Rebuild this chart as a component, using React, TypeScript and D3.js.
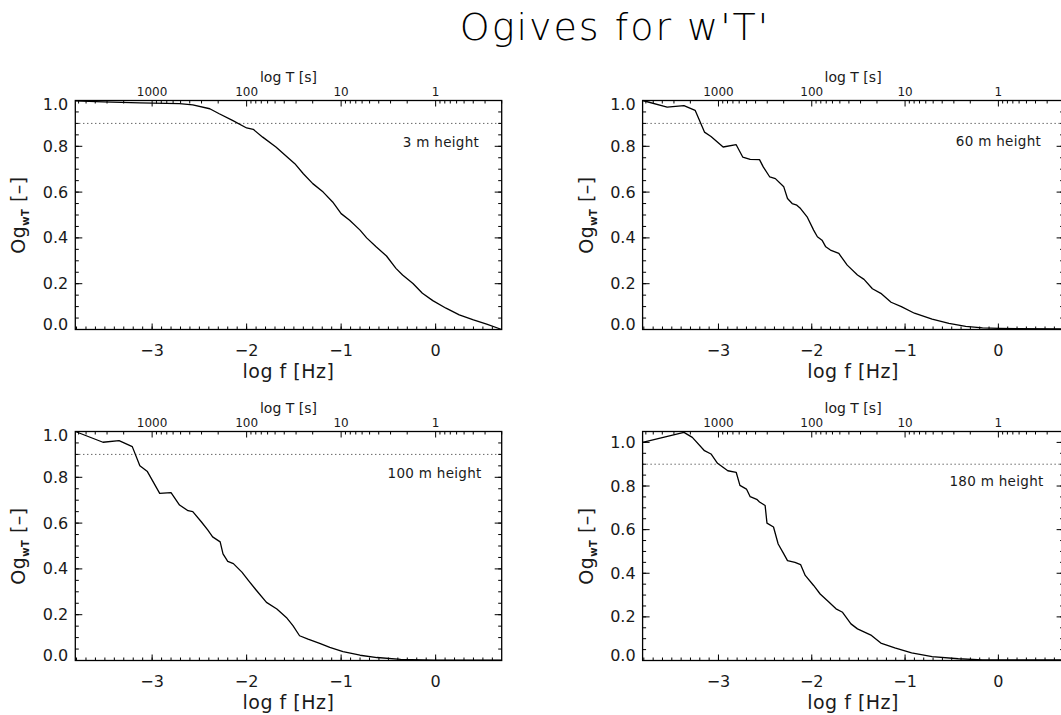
import React from 'react';
import * as d3 from 'd3';

// ---------- data ----------
const panelTitles = ['3 m height', '60 m height', '100 m height', '180 m height'];

const logf3 = [-3.813, -3.52, -3.13, -2.71, -2.57, -2.39, -2.29, -2.15, -2.0, -1.93, -1.83, -1.69, -1.55, -1.49, -1.40, -1.30, -1.19, -1.09, -1.0, -0.91, -0.80, -0.73, -0.63, -0.52, -0.42, -0.35, -0.24, -0.14, -0.03, 0.11, 0.25, 0.40, 0.54, 0.699];
const og3 = [0.998, 0.994, 0.99, 0.986, 0.981, 0.964, 0.942, 0.913, 0.88, 0.874, 0.84, 0.797, 0.746, 0.724, 0.68, 0.637, 0.60, 0.557, 0.506, 0.477, 0.434, 0.40, 0.361, 0.321, 0.267, 0.238, 0.201, 0.158, 0.126, 0.093, 0.064, 0.042, 0.023, 0.0];

const logf60 = [-3.813, -3.55, -3.37, -3.25, -3.15, -3.08, -2.95, -2.81, -2.74, -2.66, -2.56, -2.52, -2.45, -2.39, -2.30, -2.26, -2.21, -2.16, -2.12, -2.05, -1.98, -1.94, -1.89, -1.85, -1.80, -1.71, -1.62, -1.51, -1.44, -1.35, -1.26, -1.15, -1.04, -0.90, -0.71, -0.53, -0.35, -0.17, 0.01, 0.2, 0.699];
const og60 = [1.0, 0.971, 0.978, 0.957, 0.862, 0.843, 0.797, 0.807, 0.753, 0.743, 0.742, 0.71, 0.666, 0.659, 0.623, 0.572, 0.55, 0.543, 0.528, 0.492, 0.434, 0.405, 0.39, 0.361, 0.347, 0.332, 0.281, 0.238, 0.219, 0.178, 0.158, 0.119, 0.10, 0.071, 0.045, 0.027, 0.014, 0.007, 0.005, 0.004, 0.002];

const logf100 = [-3.813, -3.52, -3.35, -3.21, -3.13, -3.05, -2.92, -2.80, -2.71, -2.62, -2.57, -2.48, -2.41, -2.36, -2.28, -2.25, -2.20, -2.14, -2.05, -1.98, -1.90, -1.79, -1.68, -1.58, -1.51, -1.44, -1.35, -1.22, -1.12, -0.98, -0.80, -0.62, -0.37, -0.02, 0.699];
const og100 = [1.0, 0.953, 0.96, 0.934, 0.85, 0.825, 0.73, 0.733, 0.679, 0.654, 0.65, 0.606, 0.569, 0.54, 0.518, 0.466, 0.433, 0.423, 0.386, 0.349, 0.308, 0.254, 0.225, 0.188, 0.152, 0.108, 0.093, 0.074, 0.057, 0.039, 0.023, 0.013, 0.005, 0.001, 0.001];

const logf180 = [-3.813, -3.37, -3.28, -3.15, -3.08, -3.01, -2.90, -2.81, -2.77, -2.70, -2.66, -2.59, -2.56, -2.50, -2.48, -2.41, -2.36, -2.30, -2.26, -2.18, -2.12, -2.07, -1.98, -1.91, -1.82, -1.74, -1.67, -1.58, -1.51, -1.36, -1.26, -1.11, -0.93, -0.71, -0.43, -0.17, 0.699];
const og180 = [1.0, 1.046, 1.023, 0.962, 0.947, 0.904, 0.87, 0.863, 0.803, 0.786, 0.751, 0.739, 0.727, 0.711, 0.63, 0.612, 0.534, 0.489, 0.458, 0.45, 0.44, 0.39, 0.344, 0.305, 0.269, 0.237, 0.221, 0.168, 0.145, 0.115, 0.08, 0.058, 0.035, 0.018, 0.008, 0.003, 0.003];

const seriesX = [logf3, logf60, logf100, logf180];
const seriesY = [og3, og60, og100, og180];
const yMaxes = [1.0, 1.0, 1.0, 1.05];

const xDomain = [-3.813, 0.699];
const freqTicks = [-3, -2, -1, 0];
const periodTicks = [1000, 100, 10, 1];
const yTicks = [0, 0.2, 0.4, 0.6, 0.8, 1.0];
const refLevel = 0.9;

// ---------- layout ----------
const W = 1061, H = 715;
const PH = 229;
const panels = [
  { x0: 75.3, y0: 100.5, w: 426.4 },
  { x0: 642.6, y0: 100.5, w: 421 },
  { x0: 75.3, y0: 431.5, w: 426.4 },
  { x0: 642.6, y0: 431.5, w: 421 },
];
const labelPos = [
  { dx: -22.5, y: 146.5 },
  { dx: -22.5, y: 146 },
  { dx: -20, y: 477.5 },
  { dx: -20, y: 486 },
];

const FONT = "'DejaVu Sans', 'Liberation Sans', sans-serif";

function Panel({ idx }: { idx: number }) {
  const { x0, y0, w } = panels[idx];
  const x1 = x0 + w, y1 = y0 + PH;
  const x = d3.scaleLinear().domain(xDomain).range([x0, x1]);
  const y = d3.scaleLinear().domain([0, yMaxes[idx]]).range([y1, y0]);
  const pts: [number, number][] = seriesX[idx].map((v, i) => [v, seriesY[idx][i]]);
  const line = d3.line<[number, number]>().x(d => x(d[0])).y(d => y(d[1]));

  const yMinor = d3.range(0, yMaxes[idx] + 1e-9, 0.05);
  const xMinor = d3.range(-3.8, 0.7, 0.1).filter(v => v >= xDomain[0] && v <= xDomain[1]);
  const tMinor: number[] = [];
  for (let e = -1; e <= 3; e++) {
    for (let k = 2; k <= 9; k++) {
      const T = k * Math.pow(10, e);
      const lf = -Math.log10(T);
      if (lf >= xDomain[0] && lf <= xDomain[1]) tMinor.push(lf);
    }
  }
  const clipId = `clip${idx}`;
  const cx = (x0 + x1) / 2;
  const tick = '#000';
  const txt = '#1a1a1a';
  return (
    <g>
      <defs>
        <clipPath id={clipId}>
          <rect x={x0} y={y0 - 1} width={w} height={PH + 2} />
        </clipPath>
      </defs>
      <line x1={x0} x2={x1} y1={y(refLevel)} y2={y(refLevel)} stroke="#222" strokeWidth={1} strokeDasharray="1,3" />
      <path d={line(pts) || ''} fill="none" stroke="#000" strokeWidth={1.3} clipPath={`url(#${clipId})`} strokeLinejoin="round" />
      <rect x={x0} y={y0} width={w} height={PH} fill="none" stroke="#000" strokeWidth={1.3} />
      {yMinor.map((v, i) => (
        <g key={'ym' + i}>
          <line x1={x0} x2={x0 + 3.5} y1={y(v)} y2={y(v)} stroke={tick} strokeWidth={1} />
          <line x1={x1} x2={x1 - 3.5} y1={y(v)} y2={y(v)} stroke={tick} strokeWidth={1} />
        </g>
      ))}
      {yTicks.map((v, i) => (
        <g key={'yM' + i}>
          <line x1={x0} x2={x0 + 7} y1={y(v)} y2={y(v)} stroke={tick} strokeWidth={1} />
          <line x1={x1} x2={x1 - 7} y1={y(v)} y2={y(v)} stroke={tick} strokeWidth={1} />
          <text x={x0 - 7} y={y(v)} dy={v === 0 ? -5 : (Math.abs(y(v) - y0) < 1 ? 3.5 : 0)} textAnchor="end" dominantBaseline="central"
            fontFamily={FONT} fontSize={16} fill={txt}>{v.toFixed(1)}</text>
        </g>
      ))}
      {xMinor.map((v, i) => (
        <line key={'xm' + i} x1={x(v)} x2={x(v)} y1={y1} y2={y1 - 3} stroke={tick} strokeWidth={1} />
      ))}
      {freqTicks.map((v, i) => (
        <g key={'xM' + i}>
          <line x1={x(v)} x2={x(v)} y1={y1} y2={y1 - 6} stroke={tick} strokeWidth={1} />
          <text x={x(v)} y={y1 + 26} textAnchor="middle" fontFamily={FONT} fontSize={16} fill={txt}>
            {v < 0 ? '\u2212' + Math.abs(v) : String(v)}
          </text>
        </g>
      ))}
      {tMinor.map((v, i) => (
        <line key={'tm' + i} x1={x(v)} x2={x(v)} y1={y0} y2={y0 + 3} stroke={tick} strokeWidth={1} />
      ))}
      {periodTicks.map((T, i) => (
        <g key={'tM' + i}>
          <line x1={x(-Math.log10(T))} x2={x(-Math.log10(T))} y1={y0} y2={y0 + 6} stroke={tick} strokeWidth={1} />
          <text x={x(-Math.log10(T))} y={y0 - 5} textAnchor="middle" fontFamily={FONT} fontSize={12} fill={txt}>{String(T)}</text>
        </g>
      ))}
      <text x={cx} y={y0 - 19} textAnchor="middle" fontFamily={FONT} fontSize={14} fill={txt}>log T [s]</text>
      <text x={cx} y={y1 + 48} textAnchor="middle" fontFamily={FONT} fontSize={19} fill={txt} letterSpacing={0.5}>log f [Hz]</text>
      <text transform={`translate(${x0 - 50},${(y0 + y1) / 2}) rotate(-90)`} textAnchor="middle" fontFamily={FONT} fontSize={19} fill={txt} letterSpacing={0.5}>
        Og<tspan fontSize={10} fontWeight="bold" dy={4}>wT</tspan><tspan dy={-4}> [–]</tspan>
      </text>
      <text x={x1 + labelPos[idx].dx} y={labelPos[idx].y} textAnchor="end" fontFamily={FONT} fontSize={13.5} fill={txt} letterSpacing={0.3}>
        {panelTitles[idx]}
      </text>
    </g>
  );
}

export default function App() {
  return (
    <div style={{ position: 'absolute', left: 0, top: 0, width: W, height: H, overflow: 'hidden', background: '#fff' }}>
      <svg width={W} height={H} viewBox={`0 0 ${W} ${H}`} style={{ display: 'block' }}>
        <rect x={0} y={0} width={W} height={H} fill="#fff" />
        <text x={615} y={40} textAnchor="middle" fontFamily={FONT} fontWeight={200} fontSize={38} letterSpacing={2} fill="#000">
          Ogives for w'T'
        </text>
        {[0, 1, 2, 3].map(i => <Panel key={i} idx={i} />)}
      </svg>
    </div>
  );
}
